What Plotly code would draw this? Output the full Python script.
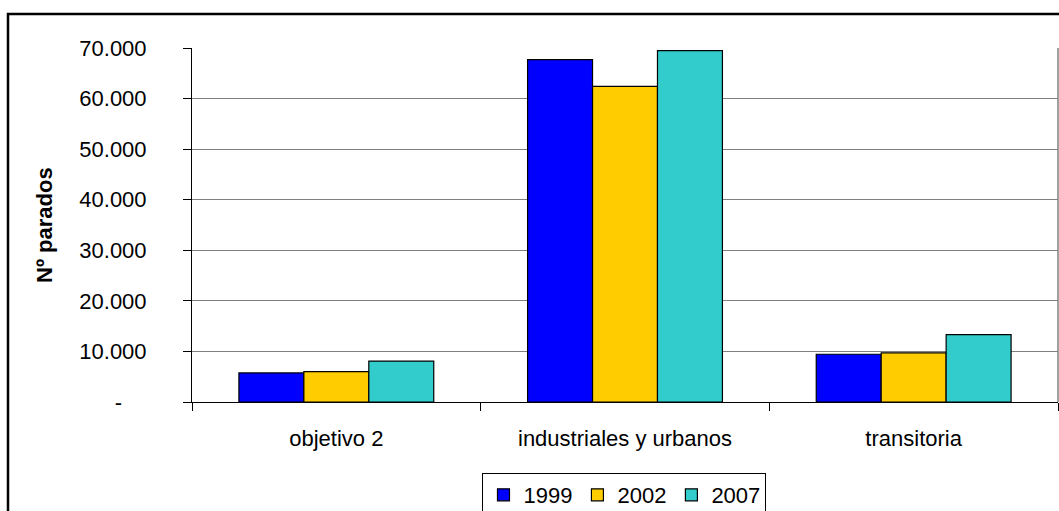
import plotly.graph_objects as go

categories = ["objetivo 2", "industriales y urbanos", "transitoria"]
years = ["1999", "2002", "2007"]
values_1999 = [5740, 67700, 9440]
values_2002 = [6000, 62400, 9700]
values_2007 = [8100, 69500, 13320]
colors = ["#0000FF", "#FFCC00", "#33CCCC"]
y_tickvals = [0, 10000, 20000, 30000, 40000, 50000, 60000, 70000]
y_ticktext = ["-\u00a0\u00a0\u00a0\u00a0", "10.000", "20.000", "30.000", "40.000", "50.000", "60.000", "70.000"]

W, H = 1059, 511
L, R, T, B = 192, 1, 48, 109
pw, ph = W - L - R, H - T - B

FONT = "Liberation Sans, Arial, sans-serif"

fig = go.Figure()
for name, vals, col in zip(years, [values_1999, values_2002, values_2007], colors):
    fig.add_trace(go.Bar(
        x=categories, y=vals, name=name,
        marker=dict(color=col, line=dict(color="black", width=1.2)),
    ))

def px_x(p):
    return (p - L) / pw

def px_y(p):
    return (H - B - p) / ph

fig.update_layout(
    width=W, height=H,
    margin=dict(l=L, r=R, t=T, b=B, autoexpand=False),
    paper_bgcolor="white", plot_bgcolor="white",
    barmode="group", bargap=0.325, bargroupgap=0,
    font=dict(family=FONT, size=22, color="black"),
    showlegend=True,
    legend=dict(
        orientation="h", x=0.4994, xanchor="center", y=px_y(473), yanchor="top",
        bordercolor="black", borderwidth=1, bgcolor="white",
        font=dict(family=FONT, size=22, color="black"),
        itemwidth=30, tracegroupgap=0,
    ),
    xaxis=dict(
        type="category", showline=True, linecolor="black", linewidth=1,
        ticks="outside", tickson="boundaries", ticklen=8, tickcolor="black",
        showgrid=False, ticklabelstandoff=17,
        tickfont=dict(family=FONT, size=22, color="black"),
    ),
    yaxis=dict(
        range=[0, 70000], tickvals=y_tickvals, ticktext=y_ticktext,
        showline=True, linecolor="black", linewidth=1,
        ticks="outside", ticklen=8, tickcolor="black",
        showgrid=True, gridcolor="#808080", gridwidth=1,
        zeroline=False, ticklabelstandoff=32,
        tickfont=dict(family=FONT, size=22, color="black"),
    ),
    shapes=[
        dict(type="rect", xref="paper", yref="paper",
             x0=px_x(8), x1=px_x(1075), y0=px_y(530), y1=px_y(14),
             line=dict(color="black", width=2.5), fillcolor="rgba(0,0,0,0)", layer="below"),
        dict(type="line", xref="paper", yref="paper",
             x0=1, x1=1, y0=0, y1=1, line=dict(color="#808080", width=1.5)),
    ],
    annotations=[
        dict(text="<b>Nº parados</b>", textangle=-90, xref="paper", yref="paper",
             x=px_x(44), y=0.5, xanchor="center", yanchor="middle", showarrow=False,
             font=dict(family=FONT, size=22, color="black")),
    ],
)

fig.write_html(
    "out.html",
    config={"displayModeBar": False},
    post_script="document.body.style.margin='0';document.body.style.overflow='hidden';",
)
